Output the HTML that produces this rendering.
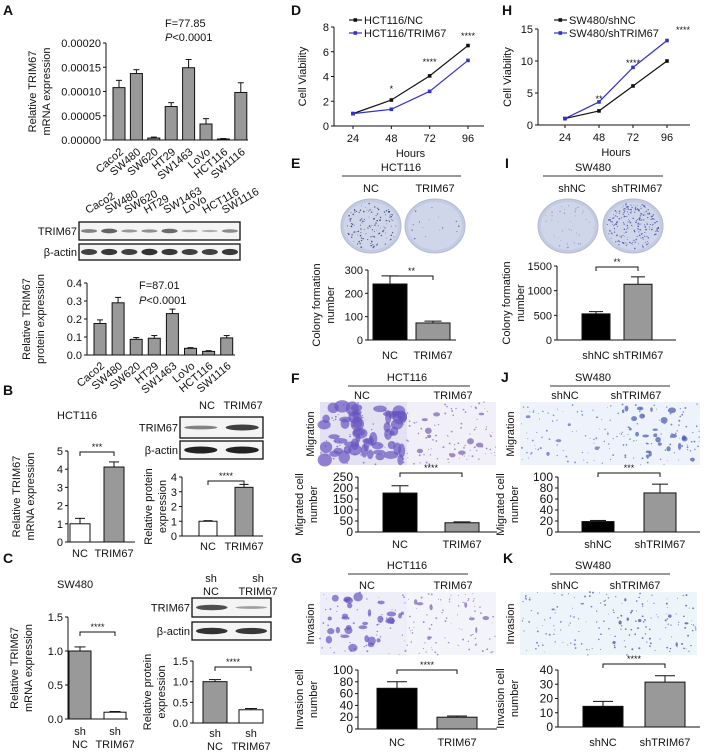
<!DOCTYPE html>
<html><head><meta charset="utf-8">
<style>
html,body{margin:0;padding:0;background:#fff;}
svg{display:block;font-family:"Liberation Sans",Arial,sans-serif;}
text{fill:#111;}
</style></head>
<body>
<svg id="fig" width="709" height="756" viewBox="0 0 709 756" xmlns="http://www.w3.org/2000/svg"></svg>
<script>
// ===== DATA =====
const lineCats = ["24","48","72","96"];
const aMrnaCats = ["Caco2","SW480","SW620","HT29","SW1463","LoVo","HCT116","SW1116"];
const aMrnaVals = [0.000108,0.000137,0.000004,0.000069,0.000149,0.000033,0.000002,0.000098];
const aMrnaErr = [0.000015,0.000008,0.000002,0.000008,0.000017,0.000011,0.000001,0.00002];
const aMrnaTicks = ["0.00000","0.00005","0.00010","0.00015","0.00020"];
const aProtVals = [0.175,0.29,0.087,0.093,0.23,0.037,0.02,0.095];
const aProtErr = [0.02,0.03,0.01,0.015,0.025,0.004,0.004,0.013];
const aProtTicks = ["0.0","0.1","0.2","0.3","0.4"];
const bMrnaVals = [1.0,4.12]; const bMrnaErr = [0.3,0.28];
const bProtVals = [1.0,3.3]; const bProtErr = [0.04,0.2];
const cMrnaVals = [1.0,0.1]; const cMrnaErr = [0.06,0.01];
const cProtVals = [1.0,0.32]; const cProtErr = [0.05,0.03];
const dNC = [1,2.1,4.05,6.5]; const dTRIM = [1,1.35,2.8,5.3];
const hNC = [1,2.2,6.1,10]; const hSH = [1,3.6,9,13.2];
const eVals = [240,73]; const eErr = [35,8];
const iVals = [530,1130]; const iErr = [45,150];
const fVals = [177,42]; const fErr = [33,4];
const jVals = [19,71]; const jErr = [2,16];
const gVals = [69,20]; const gErr = [11,2];
const kVals = [14.5,31.5]; const kErr = [3.5,4.5];

const NS="http://www.w3.org/2000/svg";
const svg=document.getElementById('fig');
function el(tag,attrs,parent){const e=document.createElementNS(NS,tag);for(const k in attrs)e.setAttribute(k,attrs[k]);(parent||svg).appendChild(e);return e;}
function txt(x,y,s,size,anchor,extra,parent){const t=el('text',Object.assign({x:x,y:y,'font-size':size||11,'text-anchor':anchor||'middle'},extra||{}),parent);t.textContent=s;return t;}
let seed=7;function rnd(){seed=(seed*16807)%2147483647;return seed/2147483647;}

function letter(x,y,s){const t=txt(x,y,s,14,'start',{'font-weight':'bold'});}

function barChart(o){
  const g=el('g',{});
  
  
  const y=v=>o.yB-(v/o.max)*(o.yB-o.yT);
  const n=o.ticks.length;
  el('line',{x1:o.ax,y1:o.yT,x2:o.ax,y2:o.yB,stroke:'#111','stroke-width':1},g);
  el('line',{x1:o.ax,y1:o.yB,x2:o.axEnd,y2:o.yB,stroke:'#111','stroke-width':1},g);
  o.ticks.forEach((t,i)=>{const v=o.max*i/(n-1);const yy=y(v);
    el('line',{x1:o.ax-3,y1:yy,x2:o.ax,y2:yy,stroke:'#111'},g);
    const tt=txt(o.ax-5,yy+4,t,o.fs||11,'end',{},g);
    });
  o.vals.forEach((v,i)=>{const cx=o.x0+o.step*i;const top=y(v);
    const r=el('rect',{x:cx-o.w/2,y:top,width:o.w,height:o.yB-top,fill:o.fills[i],stroke:'#111','stroke-width':1},g);
    
    const et=y(v+o.errs[i]);
    el('line',{x1:cx,y1:top,x2:cx,y2:et,stroke:'#111'},g);
    el('line',{x1:cx-o.w/4,y1:et,x2:cx+o.w/4,y2:et,stroke:'#111'},g);
    const lines=o.cats[i];
    if(o.rot){const t=txt(cx+5,o.catY,lines[0],11,'end',{transform:`rotate(-40 ${cx+5} ${o.catY})`},g);}
    else lines.forEach((s,k)=>{const t=txt(cx,o.catY+k*13,s,11,'middle',{},g);});
  });
  if(o.sig){const a=o.x0+o.step*o.sig[0],b=o.x0+o.step*o.sig[1];
    el('polyline',{points:`${a},${o.sigY+4} ${a},${o.sigY} ${b},${o.sigY} ${b},${o.sigY+4}`,fill:'none',stroke:'#111'},g);
    const t=txt((a+b)/2,o.sigY-2,o.sigT,9,'middle',{},g);}
  o.ytitle.forEach((s,k)=>{const xx=o.ytx+k*14,yy=(o.yT+o.yB)/2;const t=txt(xx,yy,s,11,'middle',{transform:`rotate(-90 ${xx} ${yy})`},g);});
}

function lineChart(o){
  const g=el('g',{});
  
  
  const y=v=>o.yB-(v/o.max)*(o.yB-o.yT);
  const x=i=>o.x0+(o.x1-o.x0)*i/(lineCats.length-1);
  el('line',{x1:o.ax,y1:o.yT,x2:o.ax,y2:o.yB,stroke:'#111'},g);
  el('line',{x1:o.ax,y1:o.yB,x2:o.axEnd,y2:o.yB,stroke:'#111'},g);
  o.ticks.forEach((t,i)=>{const yy=y(o.max*i/(o.ticks.length-1));el('line',{x1:o.ax-3,y1:yy,x2:o.ax,y2:yy,stroke:'#111'},g);
    const tt=txt(o.ax-5,yy+4,t,11,'end',{},g);});
  lineCats.forEach((c,i)=>{el('line',{x1:x(i),y1:o.yB,x2:x(i),y2:o.yB+3,stroke:'#111'},g);
    const t=txt(x(i),o.yB+16,c,11,'middle',{},g);});
  const ht=txt((o.x0+o.x1)/2,o.yB+31,'Hours',11,'middle',{},g);
  const yt=txt(o.ytx,(o.yT+o.yB)/2,'Cell Viability',11,'middle',{transform:`rotate(-90 ${o.ytx} ${(o.yT+o.yB)/2})`},g);
  o.series.forEach((s,si)=>{
    const p=el('polyline',{points:s.vals.map((v,i)=>x(i)+','+y(v)).join(' '),fill:'none',stroke:s.color,'stroke-width':1.2},g);
    
    s.vals.forEach((v,i)=>{const c=el('rect',{x:x(i)-1.8,y:y(v)-1.8,width:3.6,height:3.6,fill:s.color},g);});
    const ly=o.legY+si*13;
    el('line',{x1:o.legX,y1:ly,x2:o.legX+13,y2:ly,stroke:s.color,'stroke-width':1.2},g);
    el('rect',{x:o.legX+4.5,y:ly-1.8,width:3.6,height:3.6,fill:s.color},g);
    const lt=txt(o.legX+15,ly+4,s.label,11,'start',{},g);
  });
  o.stars.forEach((s,i)=>{if(!s)return;const t=txt(x(i),o.starY[i],s,9,'middle',{},g);});
}

function header(cx,y,title,x1,x2,labels,lx,gap){
  const t=txt(cx,y,title,11);
  el('line',{x1:x1,y1:y+5,x2:x2,y2:y+5,stroke:'#333'});
  labels.forEach((s,i)=>{const l=txt(lx[i],y+(gap||21),s,11);});
}
function dish(cx,cy,density,col){
  const g=el('g',{});
  el('ellipse',{cx:cx,cy:cy,rx:30,ry:27,fill:'#c3cbe3',stroke:'#b3bbd6'},g);
  el('ellipse',{cx:cx,cy:cy,rx:27,ry:24,fill:'#cfd6ea'},g);
  for(let i=0;i<density;i++){const a=rnd()*6.283,r=Math.sqrt(rnd());el('circle',{cx:cx+Math.cos(a)*r*26,cy:cy+Math.sin(a)*r*23,r:0.35+rnd()*0.5,fill:col,opacity:0.8},g);}
}
function cellImg(x,y,w,h,clumps,dots,col,bg,cs){
  const g=el('g',{});
  el('rect',{x:x,y:y,width:w,height:h,fill:bg},g);
  const s=cs||1;
  for(let i=0;i<clumps;i++){el('ellipse',{cx:x+4+rnd()*(w-8),cy:y+4+rnd()*(h-8),rx:(1.5+rnd()*3.5)*s,ry:(1.5+rnd()*3)*s,fill:col,opacity:0.7},g);}
  for(let i=0;i<dots;i++){el('circle',{cx:x+rnd()*w,cy:y+rnd()*h,r:0.4+rnd()*0.6,fill:col,opacity:0.7},g);}
}
function blot(x1,x2,y1,y2,label,bands){
  const g=el('g',{});
  el('rect',{x:x1,y:y1,width:x2-x1,height:y2-y1,fill:'#f4f4f4',stroke:'#111','stroke-width':1.3},g);
  const n=bands.length,step=(x2-x1)/n;
  bands.forEach((b,i)=>{if(b<=0)return;el('ellipse',{cx:x1+step*(i+0.5),cy:(y1+y2)/2,rx:step*0.4,ry:1+b*2.5,fill:'#222',opacity:Math.min(1,0.3+b*0.7)},g);});
  txt(x1-2,(y1+y2)/2+4,label,11,'end',{},g);
}

// ===== PANEL A =====
letter(3,15,'A');
txt(165,27,'F=77.85',11,'start');
txt(165,41,'',11,'start').innerHTML='<tspan font-style="italic">P</tspan>&lt;0.0001';
barChart({name:'chart-a-mrna',ax:106,yT:43,yB:140,axEnd:248,max:0.0002,ticks:aMrnaTicks,x0:119,step:17.4,w:12,vals:aMrnaVals,errs:aMrnaErr,fills:aMrnaVals.map(()=>'#999'),cats:aMrnaCats.map(c=>[c]),rot:true,catY:153,ytitle:['Relative TRIM67','mRNA expression'],ytx:36});
aMrnaCats.forEach((c,i)=>{const cx=88+i*19.5;const t=txt(cx,214,c,11,'start',{transform:`rotate(-30 ${cx} 214)`});});
blot(79,240,222,240,'TRIM67',[0.35,0.55,0.2,0.25,0.5,0.1,0.05,0.3]);
blot(79,240,244,260,'β-actin',[0.8,0.85,0.8,0.9,0.85,0.8,0.8,0.85]);
txt(139,289,'F=87.01',11,'start');
txt(139,304,'',11,'start').innerHTML='<tspan font-style="italic">P</tspan>&lt;0.0001';
barChart({name:'chart-a-protein',ax:87,yT:283,yB:355,axEnd:235,max:0.4,ticks:aProtTicks,x0:100,step:18.1,w:12,vals:aProtVals,errs:aProtErr,fills:aProtVals.map(()=>'#999'),cats:aMrnaCats.map(c=>[c]),rot:true,catY:367,ytitle:['Relative TRIM67','protein expression'],ytx:30});

// ===== PANEL B =====
letter(3,395,'B');
txt(57,419,'HCT116',11,'start');
barChart({name:'chart-b-mrna',ax:68,yT:451,yB:542,axEnd:135,max:5,ticks:['0','1','2','3','4','5'],x0:80,step:34,w:20,vals:bMrnaVals,errs:bMrnaErr,fills:['#fff','#999'],cats:[['NC'],['TRIM67']],catY:557,sig:[0,1],sigY:452,sigT:'***',ytitle:['Relative TRIM67','mRNA expression'],ytx:20});
txt(207,409,'NC',11);txt(243,409,'TRIM67',11);
blot(180,263,417,438,'TRIM67',[0.35,0.8]);
blot(180,263,441,459,'β-actin',[1,1]);
barChart({name:'chart-b-protein',ax:182,yT:477,yB:536,axEnd:263,max:4,ticks:['0','1','2','3','4'],x0:208,step:36,w:18,vals:bProtVals,errs:bProtErr,fills:['#fff','#999'],cats:[['NC'],['TRIM67']],catY:550,sig:[0,1],sigY:481,sigT:'****',ytitle:['Relative protein','expression'],ytx:152});

// ===== PANEL C =====
letter(3,563,'C');
txt(57,588,'SW480',11,'start');
barChart({name:'chart-c-mrna',ax:68,yT:617,yB:719,axEnd:128,max:1.5,ticks:['0.0','0.5','1.0','1.5'],x0:80,step:35,w:22,vals:cMrnaVals,errs:cMrnaErr,fills:['#999','#fff'],cats:[['sh','NC'],['sh','TRIM67']],catY:735,sig:[0,1],sigY:632,sigT:'****',ytitle:['Relative TRIM67','mRNA expression'],ytx:18});
txt(211,582,'sh',11);txt(211,595,'NC',11);txt(258,582,'sh',11);txt(258,595,'TRIM67',11);
blot(192,271,598,617,'TRIM67',[0.7,0.15]);
blot(192,271,622,640,'β-actin',[0.9,0.85]);
barChart({name:'chart-c-protein',ax:193,yT:661,yB:723,axEnd:263,max:1.5,ticks:['0.0','0.5','1.0','1.5'],x0:215,step:36,w:24,vals:cProtVals,errs:cProtErr,fills:['#999','#fff'],cats:[['sh','NC'],['sh','TRIM67']],catY:737,sig:[0,1],sigY:667,sigT:'****',ytitle:['Relative protein','expression'],ytx:151});

// ===== PANEL D / H =====
letter(291,15,'D');
lineChart({name:'chart-d-viability',ax:334,yT:27,yB:126,axEnd:484,x0:353,x1:468,max:8,ticks:['0','2','4','6','8'],ytx:306,legX:349,legY:20,
  series:[{label:'HCT116/NC',vals:dNC,color:'#111'},{label:'HCT116/TRIM67',vals:dTRIM,color:'#3333cc'}],stars:['','*','****','****'],starY:[0,92,65,39]});
letter(502,15,'H');
lineChart({name:'chart-h-viability',ax:538,yT:29,yB:125,axEnd:690,x0:565,x1:667,max:15,ticks:['0','5','10','15'],ytx:511,legX:554,legY:20,
  series:[{label:'SW480/shNC',vals:hNC,color:'#111'},{label:'SW480/shTRIM67',vals:hSH,color:'#3333cc'}],stars:['','**','****',''],starY:[0,102,66,0]});
txt(676,33,'****',9,'start');

// ===== PANEL E / I =====
letter(291,168,'E');
header(401,171,'HCT116',342,461,['NC','TRIM67'],[371,435]);
dish(371,226,130,'#2d3a78');dish(435,226,15,'#4a5490');
barChart({name:'chart-e-colony',ax:368,yT:270,yB:340,axEnd:456,max:300,ticks:['0','100','200','300'],x0:390,step:43,w:34,vals:eVals,errs:eErr,fills:['#000','#999'],cats:[['NC'],['TRIM67']],catY:359,sig:[0,1],sigY:276,sigT:'**',ytitle:['Colony formation','number'],ytx:320});
letter(505,168,'I');
header(593,171,'SW480',543,663,['shNC','shTRIM67'],[572,637]);
dish(568,226,40,'#8a94c8');dish(633,226,220,'#3d4aa0');
barChart({name:'chart-i-colony',ax:557,yT:266,yB:340,axEnd:676,max:1500,ticks:['0','500','1000','1500'],x0:596,step:42,w:28,vals:iVals,errs:iErr,fills:['#000','#999'],cats:[['shNC'],['shTRIM67']],catY:359,sig:[0,1],sigY:267,sigT:'**',ytitle:['Colony formation','number'],ytx:510});

// ===== PANEL F / J =====
letter(291,383,'F');
header(407,381,'HCT116',348,470,['NC','TRIM67'],[362,453],18);
cellImg(320,402,87,63,55,60,'#6a55c0','#e3e2f3',1.6);cellImg(407,402,89,63,10,90,'#7a60b0','#f1f0f8',0.8);
txt(314,434,'Migration',11,'middle',{transform:'rotate(-90 314 434)'});
barChart({name:'chart-f-migration',ax:358,yT:477,yB:532,axEnd:497,max:250,ticks:['0','50','100','150','200','250'],x0:400,step:62,w:34,vals:fVals,errs:fErr,fills:['#000','#999'],cats:[['NC'],['TRIM67']],catY:548,sig:[0,1],sigY:473,sigT:'****',ytitle:['Migrated cell','number'],ytx:303,fs:12});
letter(501,382,'J');
header(593,381,'SW480',550,670,['shNC','shTRIM67'],[565,636],18);
cellImg(520,402,90,63,6,70,'#5566bb','#eef3fb',0.6);cellImg(610,402,90,63,24,80,'#4455b0','#eef3fb',0.8);
txt(514,434,'Migration',11,'middle',{transform:'rotate(-90 514 434)'});
barChart({name:'chart-j-migration',ax:558,yT:477,yB:532,axEnd:700,max:100,ticks:['0','20','40','60','80','100'],x0:598,step:62,w:32,vals:jVals,errs:jErr,fills:['#000','#999'],cats:[['shNC'],['shTRIM67']],catY:548,sig:[0,1],sigY:473,sigT:'***',ytitle:['Migrated cell','number'],ytx:504,fs:12});

// ===== PANEL G / K =====
letter(291,563,'G');
header(407,569,'HCT116',348,468,['NC','TRIM67'],[367,453],20);
cellImg(320,592,87,63,30,60,'#6a55c0','#eeeef8',1);cellImg(407,592,89,63,8,80,'#7a60b0','#f3f3fa',0.7);
txt(314,624,'Invasion',11,'middle',{transform:'rotate(-90 314 624)'});
barChart({name:'chart-g-invasion',ax:358,yT:670,yB:729,axEnd:497,max:100,ticks:['0','20','40','60','80','100'],x0:397,step:60,w:40,vals:gVals,errs:gErr,fills:['#000','#999'],cats:[['NC'],['TRIM67']],catY:746,sig:[0,1],sigY:670,sigT:'****',ytitle:['Invasion cell','number'],ytx:303,fs:12});
letter(503,563,'K');
header(593,569,'SW480',550,670,['shNC','shTRIM67'],[565,635],20);
cellImg(520,592,90,63,2,80,'#4455aa','#eef5fa',0.4);cellImg(610,592,87,63,8,90,'#334499','#eef5fa',0.5);
txt(514,624,'Invasion',11,'middle',{transform:'rotate(-90 514 624)'});
barChart({name:'chart-k-invasion',ax:558,yT:670,yB:727,axEnd:700,max:40,ticks:['0','10','20','30','40'],x0:603,step:62,w:40,vals:kVals,errs:kErr,fills:['#000','#999'],cats:[['shNC'],['shTRIM67']],catY:746,sig:[0,1],sigY:664,sigT:'****',ytitle:['Invasion cell','number'],ytx:504,fs:12});
</script>
</body></html>
